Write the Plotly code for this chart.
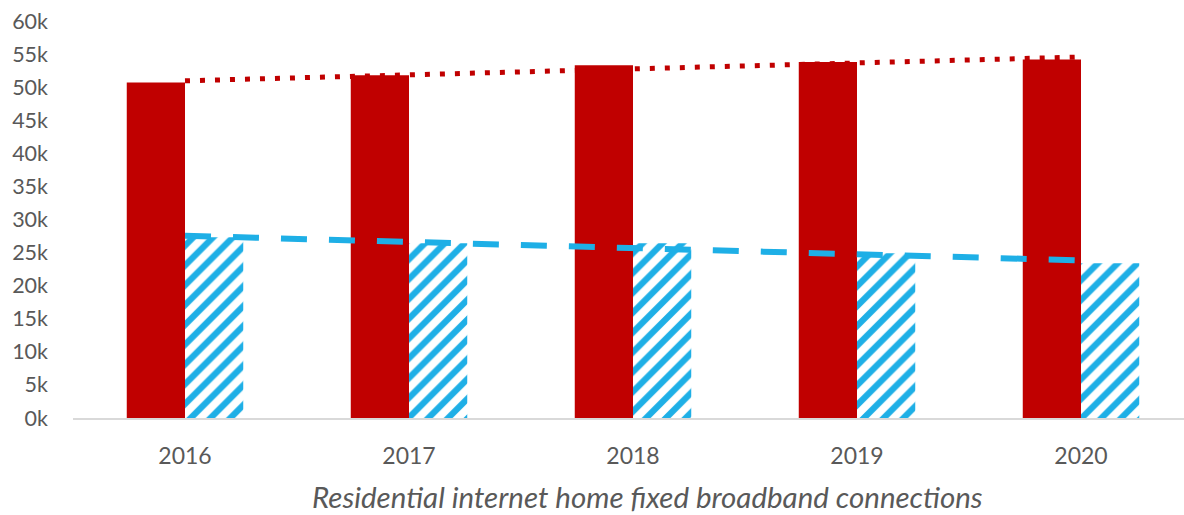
import numpy as np
import plotly.graph_objects as go

years = ["2016", "2017", "2018", "2019", "2020"]
series_a = [50700, 51800, 53300, 53800, 54200]   # red solid bars
series_b = [27300, 26400, 26400, 24900, 23400]   # blue hatched bars
y_ticks = [0, 5000, 10000, 15000, 20000, 25000, 30000, 35000, 40000, 45000, 50000, 55000, 60000]
y_tick_text = ["0k", "5k", "10k", "15k", "20k", "25k", "30k", "35k", "40k", "45k", "50k", "55k", "60k"]
x_title = "Residential internet home fixed broadband connections"

RED = "#C00000"
BLUE = "#1EAFE6"
GREY = "#595959"

x = np.arange(len(years))

def trend(vals):
    k, b = np.polyfit(x, vals, 1)
    return k * x + b

fig = go.Figure()
fig.add_trace(go.Bar(x=x, y=series_a, marker=dict(color=RED, line=dict(width=0)), name="A"))
fig.add_trace(go.Bar(
    x=x, y=series_b, name="B",
    marker=dict(color="white", line=dict(width=0),
                pattern=dict(shape="/", fgcolor=BLUE, bgcolor="white", fgopacity=1,
                             size=14, solidity=0.45, fillmode="replace")),
))
fig.add_trace(go.Scatter(x=x, y=trend(series_a), mode="lines",
                         line=dict(color=RED, width=5, dash="5px,10px"), name="trend A"))
fig.add_trace(go.Scatter(x=x, y=trend(series_b), mode="lines",
                         line=dict(color=BLUE, width=6, dash="26px,22px"), name="trend B"))

fig.update_layout(
    width=1184, height=515,
    margin=dict(l=73, r=0, t=21, b=97),
    paper_bgcolor="white", plot_bgcolor="white",
    showlegend=False,
    barmode="group", bargap=0.48, bargroupgap=0,
    font=dict(family="Lato, 'Open Sans', sans-serif", color=GREY),
    annotations=[dict(
        text=x_title, xref="paper", yref="paper", x=0.5167, y=-0.1965,
        xanchor="center", yanchor="middle", showarrow=False,
        font=dict(size=29.5, color=GREY, style="italic"),
    )],
)
fig.update_xaxes(
    range=[-0.5, -0.5 + 1111 / 224],
    tickvals=list(x), ticktext=years,
    showgrid=False, zeroline=False,
    showline=True, linecolor="#D9D9D9", linewidth=2,
    ticks="", ticklabelstandoff=16,
    tickfont=dict(size=23, color=GREY),
)
fig.update_yaxes(
    range=[0, 60000],
    tickvals=y_ticks, ticktext=y_tick_text,
    showgrid=False, zeroline=False, showline=False,
    ticks="", ticklabelstandoff=24,
    tickfont=dict(size=21.5, color=GREY),
)

fig.write_html("out.html")
